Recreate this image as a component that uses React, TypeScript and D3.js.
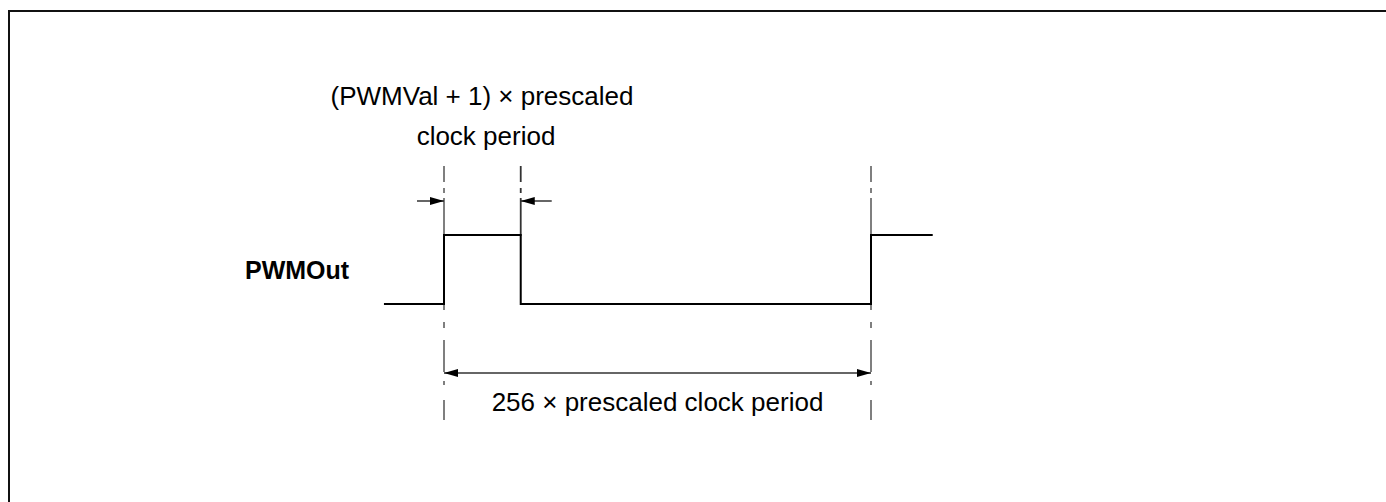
import React from "react";
import * as d3 from "d3";

// Timing in prescaled clock periods
const edgeTimes = [0, 46, 256]; // rise, fall (PWMVal+1), next rise
const signalPoints: [number, number][] = [
  [-36, 0], [0, 0], [0, 1], [46, 1], [46, 0], [256, 0], [256, 1], [293, 1],
];
const signalName = "PWMOut";
const topLabel = ["(PWMVal + 1) \u00d7 prescaled", "clock period"];
const bottomLabel = "256 \u00d7 prescaled clock period";

const W = 1386, H = 502;
const FONT = "'Liberation Sans', Arial, sans-serif";

export default function App() {
  const x = d3.scaleLinear().domain([0, 256]).range([444, 871]);
  const y = d3.scaleLinear().domain([0, 1]).range([304, 235]);
  const line = d3.line<[number, number]>().x(d => x(d[0])).y(d => y(d[1]));

  const guideSegsFull: [number, number][] = [
    [166, 182], [188, 193], [198, 310], [322, 328], [340, 372], [381, 385], [400, 420],
  ];
  const guideSegsMid: [number, number][] = [[166, 182], [188, 193], [198, 236]];

  const arrowY1 = 201;
  const arrowY2 = 373;
  const head = (tipX: number, yy: number, dir: number) =>
    `M${tipX},${yy} L${tipX - dir * 14},${yy - 4} L${tipX - dir * 14},${yy + 4} Z`;

  const x0 = x(edgeTimes[0]), x1 = x(edgeTimes[1]), x2 = x(edgeTimes[2]);

  return (
    <svg width={W} height={H} style={{ position: "absolute", left: 0, top: 0 }}>
      <rect x={9} y={11} width={1500} height={600} fill="white" stroke="#111" strokeWidth={2} />
      {/* guide dash-dot lines */}
      {[x0, x2].map((gx, i) =>
        guideSegsFull.map((s, j) => (
          <line key={`g${i}-${j}`} x1={gx} x2={gx} y1={s[0]} y2={s[1]} stroke="#555" strokeWidth={1.5} />
        ))
      )}
      {guideSegsMid.map((s, j) => (
        <line key={`m${j}`} x1={x1} x2={x1} y1={s[0]} y2={s[1]} stroke="#333" strokeWidth={1.8} />
      ))}
      {/* signal */}
      <path d={line(signalPoints) || ""} fill="none" stroke="#000" strokeWidth={2} />
      {/* top arrows */}
      <line x1={x0 - 27} x2={x0} y1={arrowY1} y2={arrowY1} stroke="#333" strokeWidth={1.5} />
      <path d={head(x0, arrowY1, 1)} fill="#000" />
      <line x1={x1} x2={x1 + 31} y1={arrowY1} y2={arrowY1} stroke="#333" strokeWidth={1.5} />
      <path d={head(x1, arrowY1, -1)} fill="#000" />
      {/* bottom double arrow */}
      <line x1={x0} x2={x2} y1={arrowY2} y2={arrowY2} stroke="#333" strokeWidth={1.5} />
      <path d={head(x0, arrowY2, -1)} fill="#000" />
      <path d={head(x2, arrowY2, 1)} fill="#000" />
      {/* labels */}
      <text x={482} y={105} textAnchor="middle" fontFamily={FONT} fontSize={26} fill="#000">{topLabel[0]}</text>
      <text x={486} y={145} textAnchor="middle" fontFamily={FONT} fontSize={26} fill="#000">{topLabel[1]}</text>
      <text x={(x0 + x2) / 2} y={411} textAnchor="middle" fontFamily={FONT} fontSize={26} fill="#000">{bottomLabel}</text>
      <text x={245} y={279} fontFamily={FONT} fontSize={25} fontWeight="bold" fill="#000">{signalName}</text>
    </svg>
  );
}
